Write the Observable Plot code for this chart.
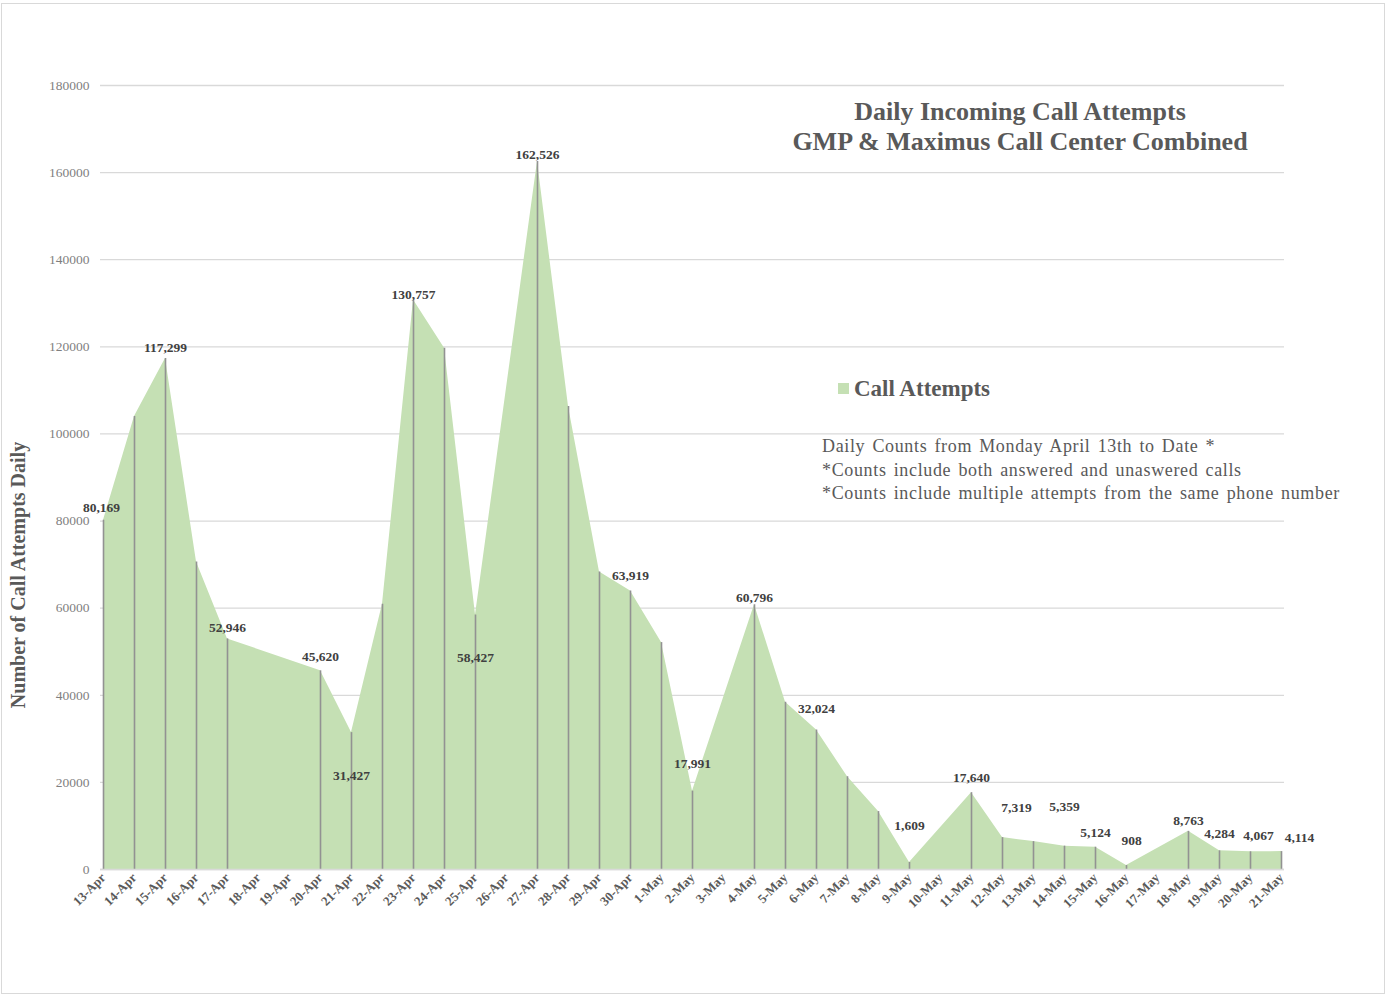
<!DOCTYPE html>
<html><head><meta charset="utf-8">
<script src="https://cdn.jsdelivr.net/npm/d3@7"></script>
<script src="https://cdn.jsdelivr.net/npm/@observablehq/plot@0.6"></script>
<style>
body{margin:0;background:#fff;}
#wrap{position:relative;width:1387px;height:996px;font-family:"Liberation Serif","Times New Roman",serif;overflow:hidden;}
#frame{position:absolute;left:1px;top:3px;width:1382px;height:989px;border:1px solid #d9d9d9;pointer-events:none;}
#chart{position:absolute;left:0;top:0;}
.title{position:absolute;left:760px;width:520px;text-align:center;font-weight:bold;font-size:26px;color:#595959;white-space:nowrap;}
#ylab{position:absolute;left:18px;top:575px;transform:translate(-50%,-50%) rotate(-90deg);font-weight:bold;font-size:20px;color:#595959;white-space:nowrap;}
#legend{position:absolute;left:838px;top:376px;font-weight:bold;font-size:23px;color:#595959;white-space:nowrap;}
#legend span.sw{display:inline-block;width:11px;height:11px;background:#c5e0b4;margin-right:5px;vertical-align:2px;}
#notes{position:absolute;left:822px;top:435px;font-size:18px;line-height:23.5px;color:#595959;white-space:nowrap;letter-spacing:0.65px;word-spacing:2px;}
</style>
</head><body>
<div id="wrap">
  <div id="chart"></div>
  <div class="title" style="top:97px">Daily Incoming Call Attempts</div>
  <div class="title" style="top:127px">GMP &amp; Maximus Call Center Combined</div>
  <div id="legend"><span class="sw"></span>Call Attempts</div>
  <div id="notes">Daily Counts from Monday April 13th to Date *<br>*Counts include both answered and unaswered calls<br>*Counts include multiple attempts from the same phone number</div>
  <div id="ylab">Number of Call Attempts Daily</div>
  <div id="frame"></div>
</div>
<script>
// Categories (x-axis tick labels)
const days = ["13-Apr","14-Apr","15-Apr","16-Apr","17-Apr","18-Apr","19-Apr","20-Apr","21-Apr","22-Apr",
  "23-Apr","24-Apr","25-Apr","26-Apr","27-Apr","28-Apr","29-Apr","30-Apr","1-May","2-May",
  "3-May","4-May","5-May","6-May","7-May","8-May","9-May","10-May","11-May","12-May",
  "13-May","14-May","15-May","16-May","17-May","18-May","19-May","20-May","21-May"];
// Daily call attempts (null = no data that day)
const callAttempts = [80169,104000,117299,70600,52946,null,null,45620,31427,60900,
  130757,119700,58427,null,162526,106300,68300,63919,52100,17991,
  null,60796,38400,32024,21300,13300,1609,null,17640,7319,
  6400,5359,5124,908,null,8763,4284,4067,4114];
// Days whose value is printed as a data label
const labeledDays = ["13-Apr","15-Apr","17-Apr","20-Apr","21-Apr","23-Apr","25-Apr","27-Apr","30-Apr","2-May",
  "4-May","6-May","9-May","11-May","12-May","14-May","15-May","16-May","18-May","19-May","20-May","21-May"];
// Y tick values
const yTicks = [0,20000,40000,60000,80000,100000,120000,140000,160000,180000];

const data = days.map((day,i)=>({day, value: callAttempts[i]})).filter(d=>d.value!=null);
const labeled = data.filter(d=>labeledDays.includes(d.day));

// label placement (pixel offsets) — layout only
const labelOffset = {"21-Apr":[0,43],"25-Apr":[0,43],"2-May":[0,-27],"9-May":[0,-37],"12-May":[14,-30],
  "14-May":[0,-39],"16-May":[5,-25],"6-May":[0,-21],"11-May":[0,-15],"15-May":[0,-15],"19-May":[0,-17],
  "20-May":[8,-16],"21-May":[18,-14],"30-Apr":[0,-15],"20-Apr":[0,-14],"13-Apr":[-2,-13],
  "23-Apr":[0,-5],"27-Apr":[0,-7],"4-May":[0,-7]};
const fmt = d3.format(",");
const serif = "Liberation Serif, Times New Roman, serif";

const labelMarks = labeled.map(d=>{
  const [dx,dy] = labelOffset[d.day] || [0,-11];
  return Plot.text([d], {x:"day", y:"value", text:v=>fmt(v.value), dx, dy,
    fontWeight:"bold", fontSize:13.5, fill:"#404040", fontFamily:serif});
});

const chart = Plot.plot({
  width:1387, height:996,
  marginLeft:100, marginRight:103, marginTop:85, marginBottom:127,
  style:{fontFamily:serif, background:"transparent"},
  x:{type:"point", domain:days, padding:0, label:null},
  y:{domain:[0,180000], label:null},
  marks:[
    Plot.gridY(yTicks, {stroke:"#d9d9d9", strokeOpacity:1, strokeWidth:1.3}),
    Plot.areaY(data, {x:"day", y:"value", fill:"#c5e0b4", curve:"linear"}),
    Plot.ruleX(data, {x:"day", y1:0, y2:"value", stroke:"#929292", strokeWidth:1.6}),
    Plot.ruleY([0], {stroke:"#d9d9d9", strokeWidth:1.3}),
    Plot.axisY(yTicks, {tickSize:0, tickPadding:11, tickFormat:d=>String(d), fontSize:13.5, fill:"#7f7f7f", label:null}),
    Plot.axisX({tickSize:0, tickPadding:6, tickRotate:-45, fontSize:13, fontWeight:"bold", fill:"#595959", label:null}),
    ...labelMarks
  ]
});
document.getElementById("chart").appendChild(chart);
</script>
</body></html>
